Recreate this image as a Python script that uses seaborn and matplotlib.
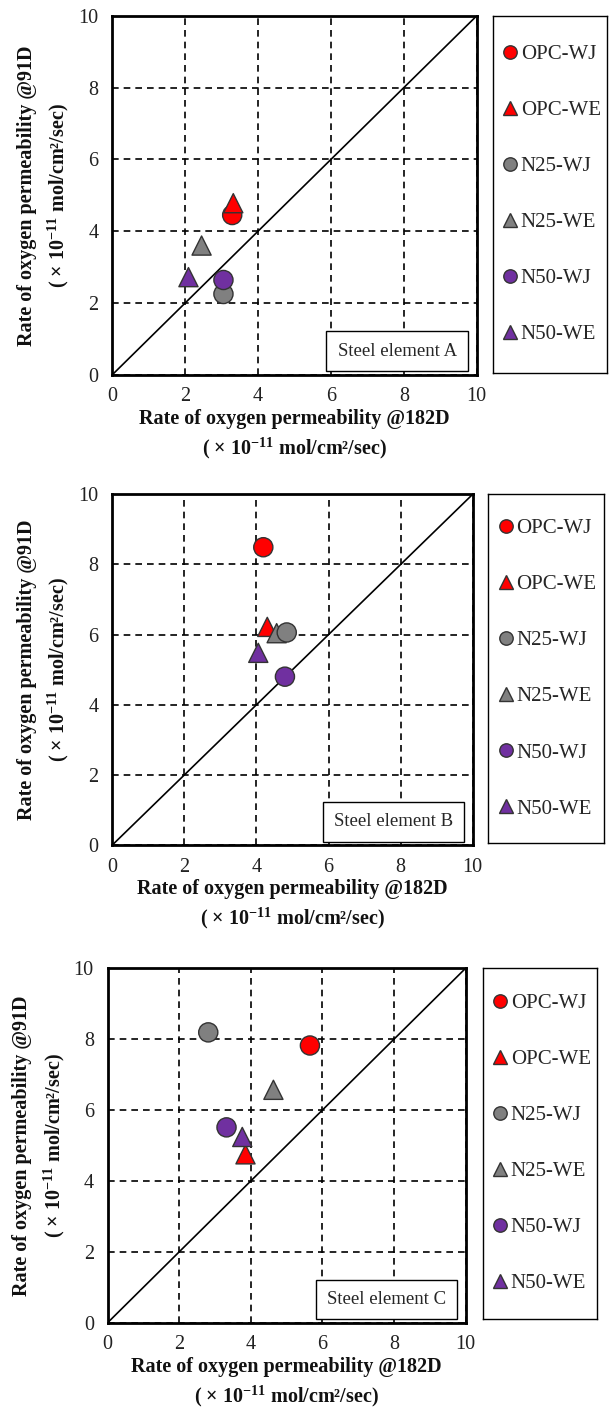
import matplotlib
matplotlib.use("Agg")
import matplotlib.pyplot as plt
import seaborn as sns
import pandas as pd

# ---------------- data ----------------
labels = ["OPC-WJ", "OPC-WE", "N25-WJ", "N25-WE", "N50-WJ", "N50-WE"]
colors = ["#FF0000", "#FF0000", "#808080", "#808080", "#7030A0", "#7030A0"]
markers = ["o", "^", "o", "^", "o", "^"]
# drawing order (later on top)
draw_order = ["OPC-WJ", "OPC-WE", "N25-WE", "N25-WJ", "N50-WJ", "N50-WE"]

panels = ["Steel element A", "Steel element B", "Steel element C"]

x_A = [3.29, 3.32, 3.05, 2.45, 3.05, 2.09]
y_A = [4.45, 4.78, 2.25, 3.60, 2.64, 2.72]

x_B = [4.19, 4.30, 4.84, 4.56, 4.79, 4.05]
y_B = [8.49, 6.22, 6.06, 6.04, 4.80, 5.48]

x_C = [5.65, 3.85, 2.81, 4.63, 3.32, 3.76]
y_C = [7.82, 4.75, 8.19, 6.57, 5.51, 5.24]

ticks = [0, 2, 4, 6, 8, 10]
xlabel = "Rate of oxygen permeability @182D\n( \u00d7 10$^{\\mathbf{-11}}$ mol/cm\u00b2/sec)"
ylabel = "Rate of oxygen permeability @91D\n( \u00d7 10$^{\\mathbf{-11}}$ mol/cm\u00b2/sec)"

# ---------------- style ----------------
sns.set_theme(style="white")
plt.rcParams["font.family"] = ["Liberation Serif", "DejaVu Serif"]
plt.rcParams["mathtext.fontset"] = "custom"
plt.rcParams["mathtext.rm"] = "Liberation Serif"
plt.rcParams["mathtext.bf"] = "Liberation Serif:bold"

fig = plt.figure(figsize=(6.09, 14.11), dpi=100)

# axes rectangles [left, bottom, width, height] in figure fraction
ax_rects = [
    [0.1844, 0.7344, 0.5984, 0.2544],
    [0.1844, 0.4011, 0.5918, 0.2486],
    [0.1768, 0.0626, 0.5878, 0.2512],
]
leg_rects = [
    [0.8095, 0.7358, 0.1880, 0.2531],
    [0.8013, 0.4025, 0.1900, 0.2472],
    [0.7931, 0.0655, 0.1880, 0.2483],
]

palette = dict(zip(labels, colors))
marker_map = dict(zip(labels, markers))

for rect, lrect, xs, ys, title in zip(ax_rects, leg_rects,
                                      [x_A, x_B, x_C], [y_A, y_B, y_C], panels):
    ax = fig.add_axes(rect)
    df = pd.DataFrame({"label": labels, "x": xs, "y": ys})
    df["order"] = df["label"].map({l: i for i, l in enumerate(draw_order)})
    df = df.sort_values("order")

    ax.axline((0, 0), slope=1, color="black", lw=1.2, zorder=1)
    sns.scatterplot(data=df, x="x", y="y", hue="label", style="label",
                    hue_order=labels, style_order=labels,
                    palette=palette, markers=marker_map, s=190,
                    edgecolor="#333333", linewidth=1.0, ax=ax, zorder=3,
                    legend=True)
    handles, hlabels = ax.get_legend_handles_labels()
    ax.get_legend().remove()

    ax.set_xlim(0, 10)
    ax.set_ylim(0, 10)
    ax.set_xticks(ticks)
    ax.set_yticks(ticks)
    ax.tick_params(axis="both", length=0, labelsize=14.5,
                   labelcolor="#222222")
    ax.tick_params(axis="x", pad=9)
    ax.tick_params(axis="y", pad=10)
    ax.grid(True, color="black", linestyle=(0, (4, 3)), linewidth=1.2)
    for sp in ax.spines.values():
        sp.set_color("black")
        sp.set_linewidth(2.0)
        sp.set_zorder(5)

    ax.set_xlabel(xlabel, fontsize=14.5, fontweight="bold", linespacing=1.3,
                  labelpad=2, color="#111111")
    ax.set_ylabel(ylabel, fontsize=14.5, fontweight="bold", linespacing=1.45,
                  labelpad=5, color="#111111")

    ax.text(0.945, 0.042, title, transform=ax.transAxes, ha="right",
            va="bottom", fontsize=13.5, zorder=6,
            bbox=dict(boxstyle="square,pad=0.6", fc="white", ec="black",
                      lw=1.0))

    # legend box
    lax = fig.add_axes(lrect)
    lax.set_xticks([])
    lax.set_yticks([])
    for sp in lax.spines.values():
        sp.set_color("black")
        sp.set_linewidth(1.0)
    lax.legend(handles, hlabels, loc="center", frameon=False, fontsize=15,
               labelspacing=1.75, handletextpad=0.0, markerscale=0.7,
               handlelength=1.0, borderaxespad=0)

fig.savefig("out.png", dpi=100)
